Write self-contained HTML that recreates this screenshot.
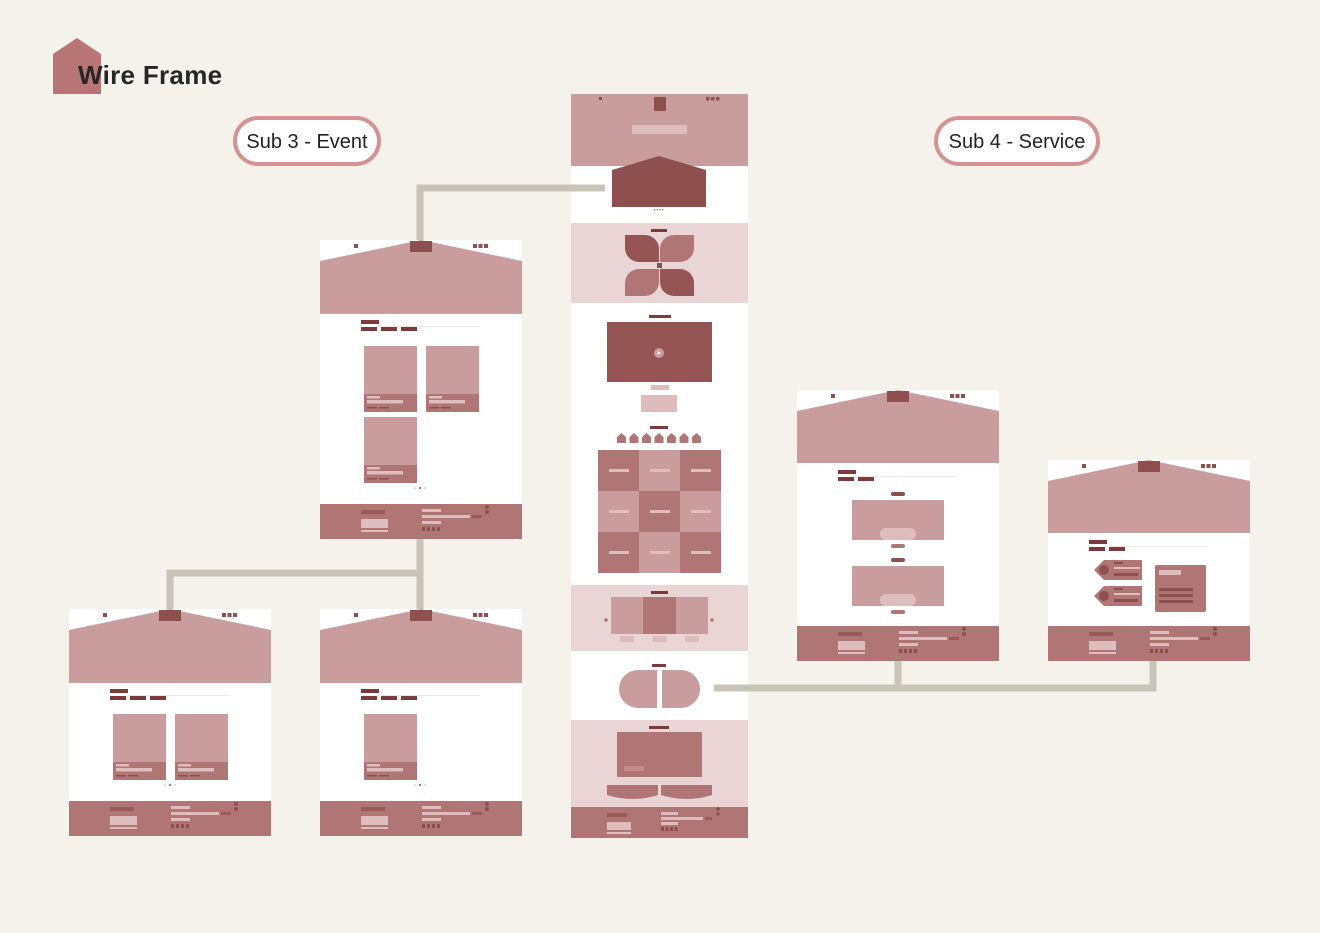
<!DOCTYPE html>
<html><head><meta charset="utf-8">
<style>
html,body{margin:0;padding:0;background:#f5f2ec;width:1320px;height:933px;overflow:hidden;font-family:"Liberation Sans",sans-serif}
#c{position:absolute;left:0;top:0}
.lbl{position:absolute;background:#fff;border:4px solid #d39393;border-radius:26px;font-size:20px;color:#222;text-align:center;box-sizing:border-box;line-height:45px}
.logo-text{position:absolute;left:78px;top:60px;font-size:26px;font-weight:bold;color:#262626;letter-spacing:0.3px}
</style></head>
<body>
<svg id="c" width="1320" height="933"></svg>
<div class="logo-text">Wire Frame</div>
<div class="lbl" style="left:233px;top:116px;width:148px;height:50px">Sub 3 - Event</div>
<div class="lbl" style="left:934px;top:116px;width:166px;height:50px">Sub 4 - Service</div>
<script>
const svg=document.getElementById('c');
const NS='http://www.w3.org/2000/svg';
const P='#c99d9d',M='#b07575',D='#8e4f4f',L='#e9d5d6',LB='#ddbdbd',G='#c8c4b8',DK='#7d3a3a';
function el(tag,a,name){
  const e=document.createElementNS(NS,tag);
  for(const k in a)e.setAttribute(k,a[k]);
  
  
  svg.appendChild(e);return e;
}
function r(x,y,w,h,f,n,rx){return el('rect',{x:x,y:y,width:w,height:h,fill:f,rx:rx||0},n);}
function poly(pts,f,n){return el('polygon',{points:pts,fill:f},n);}
// logo
poly('53,54 77,38 101,54 101,94 53,94','#b87575','logo-house');
function line(x1,y1,x2,y2,n){el('line',{x1:x1,y1:y1,x2:x2,y2:y2,stroke:G,'stroke-width':7},n);}
line(420,240,420,185,'connector-event-up');
line(420,539,420,609,'connector-event-down');line(166.5,573,423.5,573,'connector-event-branch');
line(170,570,170,609,'connector-event-sub1');
line(898,661,898,691,'connector-service-1');line(1153,661,1153,691,'connector-service-2');

function page(x,y,w,h,heroH,footH,n){
  r(x,y,w,h,'#fff',n+'-bg');
  poly(`${x},${y+21} ${x+w/2},${y} ${x+w},${y+21} ${x+w},${y+heroH} ${x},${y+heroH}`,P,n+'-hero');
  r(x+w/2-11,y+1,22,11,D,n+'-logo-tab');
  r(x+34,y+4,4,4,D,n+'-menu-dot');
  for(let i=0;i<3;i++)r(x+153+i*5.5,y+4,4,4,D,n+'-nav-dot');
  r(x+41,y+80,18,4,DK,n+'-title-bar');
  r(x+58,y+86,102,1,'#f0e6e6',n+'-title-line');
  const fy=y+h-footH;
  r(x,fy,w,footH,M,n+'-footer');
  r(x+41,fy+6,24,4,'#9a5a5a',n+'-footer-brand');
  r(x+41,fy+15,27,9,LB,n+'-footer-box');
  r(x+41,fy+26,27,2,LB,n+'-footer-line');
  r(x+102,fy+5,19,3,LB,n+'-footer-bar1');
  r(x+102,fy+11,48,3,LB,n+'-footer-bar2');
  r(x+152,fy+11,10,3,'#9a5a5a',n+'-footer-btn');
  r(x+102,fy+17,19,3,LB,n+'-footer-bar3');
  for(let i=0;i<4;i++)r(x+102+i*5,fy+23,3,4,'#8e4f4f',n+'-footer-social');
  el('circle',{cx:x+167,cy:fy+3,r:2,fill:'#8e4f4f'},n+'-footer-dot');
  el('circle',{cx:x+167,cy:fy+8,r:2,fill:'#8e4f4f'},n+'-footer-dot');
}
function tabs(x,y,k,n){for(let i=0;i<k;i++)r(x+41+i*20,y+87,16,4,DK,n+'-tab');}
function card(x,y,n){
  r(x,y,53,66,P,n);
  r(x,y+48,53,18,M,n+'-caption');
  r(x+3,y+50,13,2.5,LB,n+'-cap1');r(x+3,y+54,36,3.5,LB,n+'-cap2');
  r(x+3,y+61,10,1.5,'#8e4f4f',n+'-cap3');r(x+15,y+61,10,1.5,'#8e4f4f',n+'-cap3');
}
function pager(cx,cy,n){for(let i=0;i<3;i++)el('circle',{cx:cx-5+i*5,cy:cy,r:1,fill:i==1?D:'#e6d0d0'},n);}
page(320,240,202,299,74,35,'event-page');tabs(320,240,3,'event-page');
card(364,346,'event-card-1');card(426,346,'event-card-2');card(364,417,'event-card-3');pager(420,488,'event-pager');
page(69,609,202,227,74,35,'event-sub1');tabs(69,609,3,'event-sub1');
card(113,714,'event-sub1-card1');card(175,714,'event-sub1-card2');pager(170,785,'event-sub1-pager');
page(320,609,202,227,74,35,'event-sub2');tabs(320,609,3,'event-sub2');
card(364,714,'event-sub2-card1');pager(420,785,'event-sub2-pager');
page(797,390,202,271,73,35,'service-page');tabs(797,390,2,'service-page');
[500,566].forEach((yy,i)=>{
  r(891,yy-8,14,4,D,'service-title-'+i,2);
  r(852,yy,92,40,P,'service-block-'+i);
  r(880,yy+28,36,12,'#ddbdbd','service-pill-'+i,6);
  r(891,yy+44,14,4,M,'service-btn-'+i,2);
});
page(1048,460,202,201,73,35,'service-sub');tabs(1048,460,2,'service-sub');
[566,592].forEach((yy,i)=>{
  poly(`1098,${yy} 1104,${yy-6} 1142,${yy-6} 1142,${yy+14} 1104,${yy+14} 1094,${yy+4}`,M,'service-tag-'+i);
  el('circle',{cx:1104,cy:yy+4,r:5,fill:D},'service-tag-icon-'+i);
  r(1114,yy-4,9,2,D,'service-tag-bar');r(1114,yy+1,26,2,LB,'service-tag-bar');r(1114,yy+7,24,3,D,'service-tag-bar');
});
r(1155,565,51,47,M,'service-info-card',2);
r(1159,570,22,5,LB,'service-info-title');
for(let i=0;i<3;i++)r(1159,588+i*6,34,3,D,'service-info-line');

const X=571,W=177;
r(X,94,W,744,'#fff','home-page-bg');
r(X,94,W,72,P,'home-header');
r(599,97,3,3,D,'home-menu-dot');for(let i=0;i<3;i++)r(706+i*5,97,3.5,3.5,D,'home-nav-dot');
r(654,97,12,14,D,'home-logo');r(632,125,55,9,'#dcbcbc','home-header-bar');
line(416.5,188,605,188,'connector-event-home');
poly('612,170 659,156 706,170 706,207 612,207',D,'home-slider');
el('text',{x:606,y:191,fill:'#ddc','font-size':8},'slider-prev').textContent='‹';
el('text',{x:708,y:191,fill:'#ddc','font-size':8},'slider-next').textContent='›';
for(let i=0;i<4;i++)r(654+i*2.6,209,1.4,1.4,M,'slider-dot');
r(X,223,W,80,L,'home-flower-section');
r(651,229,16,3,DK,'flower-title');
el('path',{d:'M625,235 h20 a14,14 0 0 1 14,14 v13 h-20 a14,14 0 0 1 -14,-14 z',fill:'#955555'},'petal-tl');
el('path',{d:'M694,235 h-20 a14,14 0 0 0 -14,14 v13 h20 a14,14 0 0 0 14,-14 z',fill:M},'petal-tr');
el('path',{d:'M625,296 h20 a14,14 0 0 0 14,-14 v-13 h-20 a14,14 0 0 0 -14,14 z',fill:M},'petal-bl');
el('path',{d:'M694,296 h-20 a14,14 0 0 1 -14,-14 v-13 h20 a14,14 0 0 1 14,14 z',fill:'#955555'},'petal-br');
r(657,263,5,5,D,'flower-center');
r(649,315,22,3,DK,'video-title');
r(607,322,105,60,'#955555','home-video');
el('circle',{cx:659,cy:353,r:5,fill:'#c99d9d'},'video-play-button');
poly('657.5,351 657.5,355 661,353','#fff','video-play-icon');
r(651,385,18,5,'#dcbcbc','video-caption');r(641,395,36,17,'#dcbcbc','video-box');
r(650,426,18,3,DK,'grid-title');
for(let i=0;i<7;i++)poly(`${617+i*12.5},437 ${621.5+i*12.5},433 ${626+i*12.5},437 ${626+i*12.5},443 ${617+i*12.5},443`,M,'grid-icon');
for(let rr=0;rr<3;rr++)for(let cc=0;cc<3;cc++){
  const dark=(rr+cc)%2==0;
  r(598+cc*41,450+rr*41,41,41,dark?M:P,'grid-cell');
  r(609+cc*41,469+rr*41,20,3,dark?LB:'#ddbdbd','grid-cell-label');
}
r(X,585,W,66,L,'home-carousel-section');
r(651,591,17,3,DK,'carousel-title');
r(611,597,32,37,P,'carousel-item');r(643,597,33,37,M,'carousel-item');r(676,597,32,37,P,'carousel-item');
el('circle',{cx:606,cy:620,r:1.8,fill:M},'carousel-prev');el('circle',{cx:712,cy:620,r:1.8,fill:M},'carousel-next');
for(let i=0;i<3;i++)r(620+i*32.5,636,14,6,'#dcbcbc','carousel-caption');
r(652,664,14,3,DK,'pill-title');
el('path',{d:'M657,670 v38 h-19 a19,19 0 0 1 0,-38 z',fill:P},'pill-left');
el('path',{d:'M662,670 v38 h19 a19,19 0 0 0 0,-38 z',fill:P},'pill-right');
line(714,688,1156.5,688,'connector-service');
r(X,720,W,87,L,'home-feature-section');
r(649,726,20,3,DK,'feature-title');
r(617,732,85,45,M,'feature-image');r(624,766,20,5,'#c48b8b','feature-caption');
el('path',{d:'M607,785 h51 v10 q-25,8 -51,0 z',fill:M},'feature-bowl-left');
el('path',{d:'M661,785 h51 v10 q-25,8 -51,0 z',fill:M},'feature-bowl-right');
const fy=807;
r(X,fy,W,31,M,'home-footer');
r(607,fy+6,20,4,'#9a5a5a','home-footer-brand');r(607,fy+15,24,8,LB,'home-footer-box');r(607,fy+25,24,2,LB,'home-footer-line');
r(661,fy+5,17,3,LB,'home-footer-bar');r(661,fy+10,42,3,LB,'home-footer-bar');r(705,fy+10,7,3,'#9a5a5a','home-footer-btn');r(661,fy+15,17,3,LB,'home-footer-bar');
for(let i=0;i<4;i++)r(661+i*4.5,fy+20,3,4,D,'home-footer-social');
el('circle',{cx:718,cy:fy+2,r:1.8,fill:D},'home-footer-dot');el('circle',{cx:718,cy:fy+7,r:1.8,fill:D},'home-footer-dot');
</script>
</body></html>
